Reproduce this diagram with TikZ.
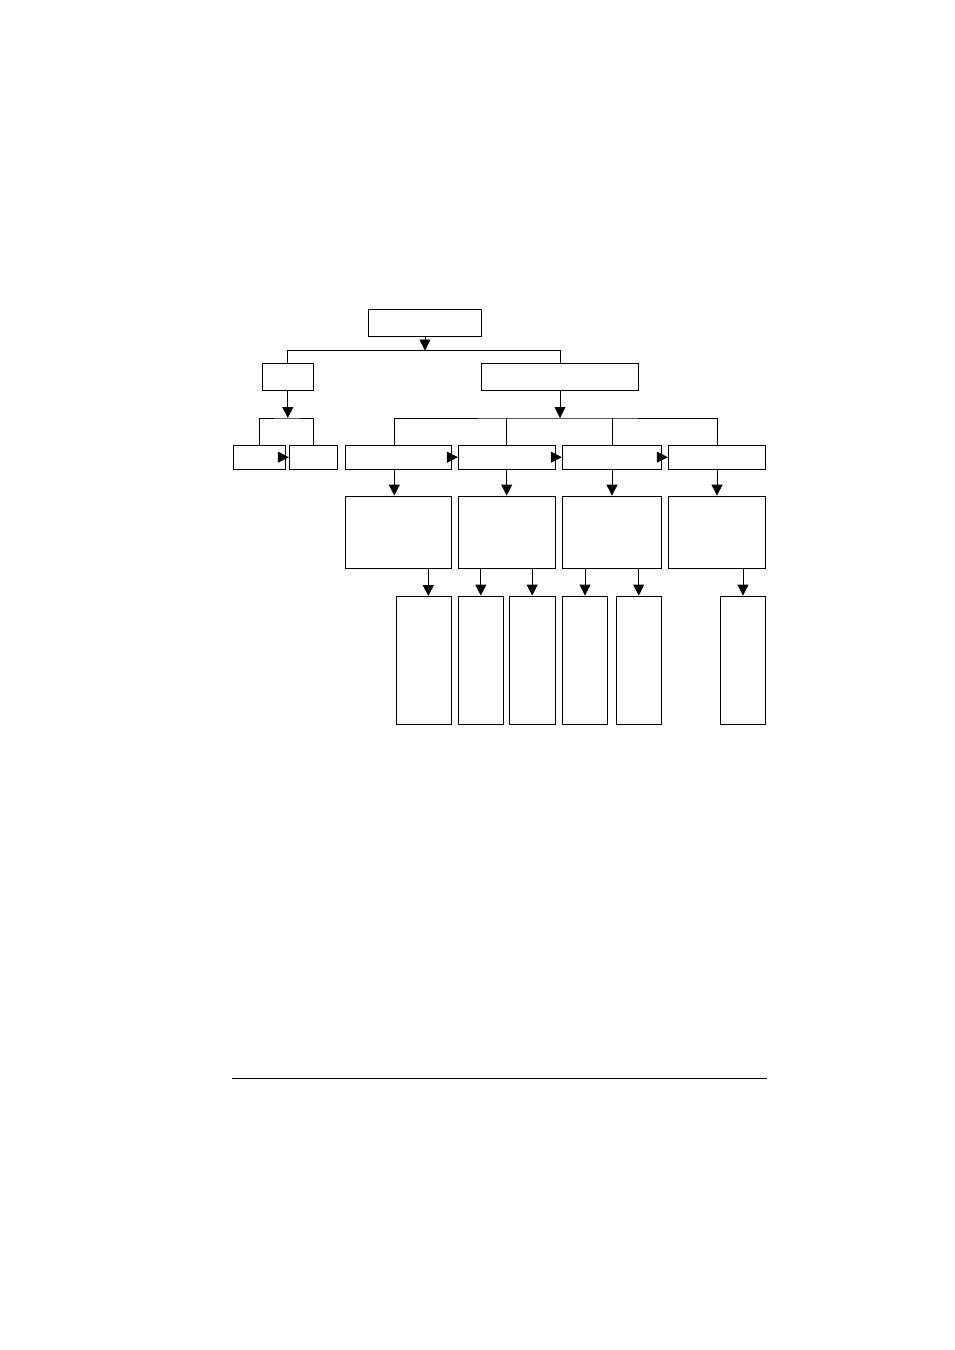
\documentclass[tikz,border=0pt]{standalone}
\usetikzlibrary{arrows.meta,positioning,calc}
\begin{document}
\begin{tikzpicture}[x=1pt, y=-1pt, line width=0.9pt,
	arr/.style = {-{Triangle[length=11pt, width=11pt]}}]
	\useasboundingbox (0,0) rectangle (954,1350);
	\tikzstyle{every node} = [rectangle, draw = black, inner sep = 0pt]
\node[minimum width = 113.5, minimum height = 26.7] (0) at (425, 322.7) {};
\node[minimum width = 51, minimum height = 26.7] (1) at (287.8, 376.7) {};
\node[minimum width = 156.6, minimum height = 26.7] (2) at (560, 376.7) {};
\node[minimum width = 52, minimum height = 24.3] (3) at (259.3, 457.2) {};
\node[minimum width = 48.4, minimum height = 24.3] (4) at (313.5, 457.2) {};
\node[minimum width = 106.7, minimum height = 24.3] (5) at (398.3, 457.2) {};
\node[minimum width = 96.7, minimum height = 24.3] (6) at (506.7, 457.2) {};
\node[minimum width = 99.4, minimum height = 24.3] (7) at (612, 457.2) {};
\node[minimum width = 97.4, minimum height = 24.3] (8) at (717, 457.2) {};
\node[minimum width = 106.7, minimum height = 72.3] (9) at (398.3, 532.2) {};
\node[minimum width = 96.7, minimum height = 72.3] (10) at (506.7, 532.2) {};
\node[minimum width = 99.4, minimum height = 72.3] (11) at (612, 532.2) {};
\node[minimum width = 97.4, minimum height = 72.3] (12) at (717, 532.2) {};
\node[minimum width = 54.6, minimum height = 128] (13) at (424, 660) {};
\node[minimum width = 45, minimum height = 128] (14) at (480.8, 660) {};
\node[minimum width = 45.7, minimum height = 128] (15) at (532.2, 660) {};
\node[minimum width = 45.4, minimum height = 128] (16) at (585, 660) {};
\node[minimum width = 44.7, minimum height = 128] (17) at (638.7, 660) {};
\node[minimum width = 45.4, minimum height = 128] (18) at (743, 660) {};

	% bus points
	\coordinate (j0) at (425, 350.5);
	\coordinate (j1) at (287.8, 418);
	\coordinate (j2) at (560, 418);
	\coordinate (c5) at (394.3, 418);
	\coordinate (c13) at (428.3, 596);

	\path[draw, arr] (0) -- (j0);
	\path[draw] (1.north) |- (j0) -| (2.north);
	\path[draw, arr] (1) -- (j1);
	\path[draw] (3.north) |- (j1) -| (4.north);
	\path[draw, arr] (3.east) -- (4.west);
	\path[draw, arr] (2) -- (j2);
	\path[draw] (5.north -| c5) |- (j2) -| (8.north);
	\path[draw] (6.north) -- (6.north |- j2);
	\path[draw] (7.north) -- (7.north |- j2);
	\path[draw, arr] (5.east) -- (6.west);
	\path[draw, arr] (6.east) -- (7.west);
	\path[draw, arr] (7.east) -- (8.west);
	\path[draw, arr] (5.south -| c5) -- (9.north -| c5);
	\path[draw, arr] (6) -- (10);
	\path[draw, arr] (7) -- (11);
	\path[draw, arr] (8) -- (12);
	\path[draw, arr] (9.south -| c13) -- (c13);
	\path[draw, arr] (10.south -| 14.north) -- (14.north);
	\path[draw, arr] (10.south -| 15.north) -- (15.north);
	\path[draw, arr] (11.south -| 16.north) -- (16.north);
	\path[draw, arr] (11.south -| 17.north) -- (17.north);
	\path[draw, arr] (12.south -| 18.north) -- (18.north);

	% rule at page foot
	\coordinate (r0) at (232, 1078.5);
	\coordinate (r1) at (767, 1078.5);
	\path[draw, line width = 1.2pt] (r0) -- (r1);
	\end{tikzpicture}
\end{document}
